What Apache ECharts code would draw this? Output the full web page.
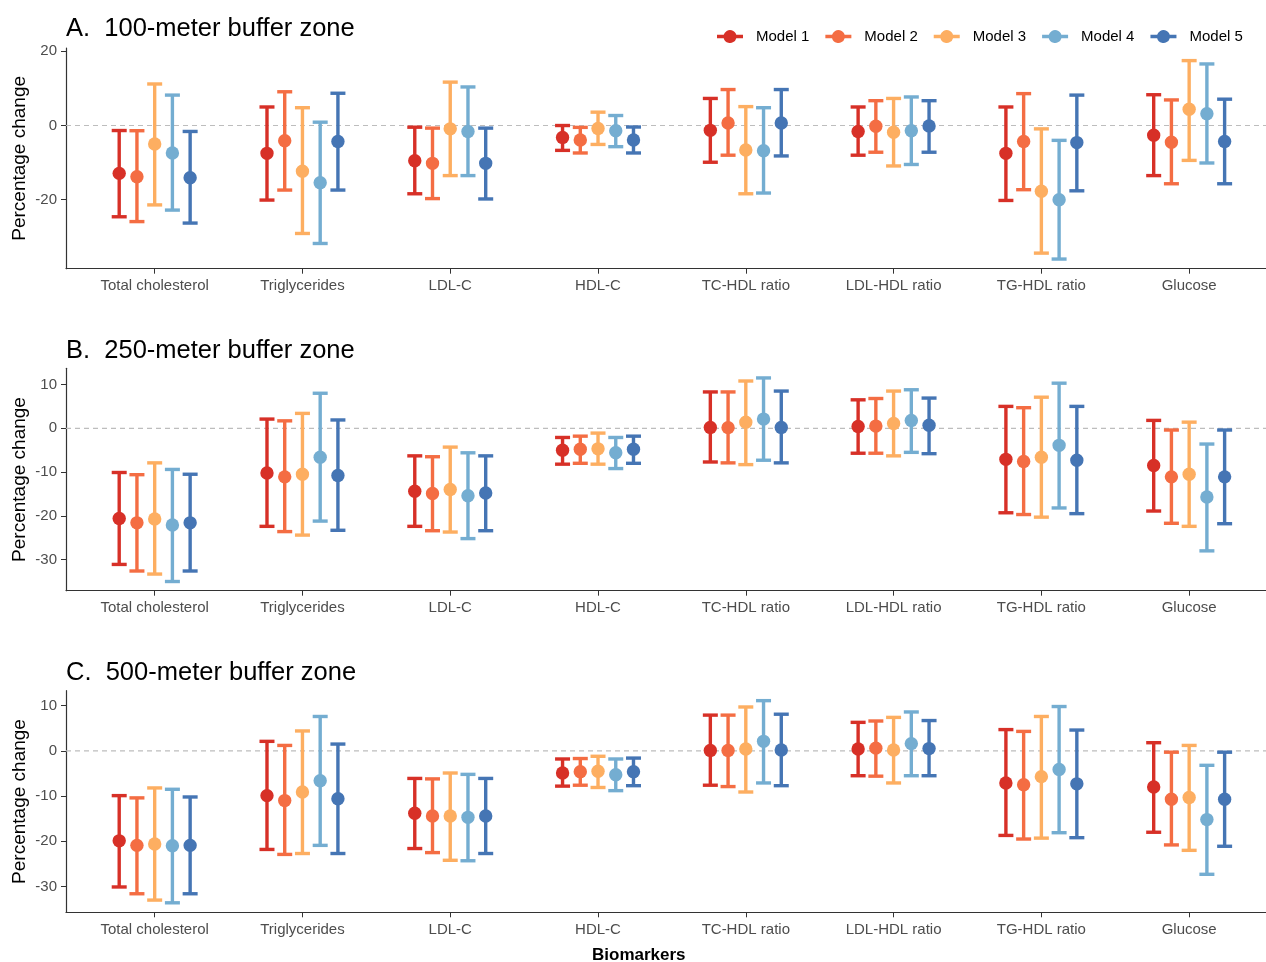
<!DOCTYPE html>
<html><head><meta charset="utf-8">
<script src="https://cdn.jsdelivr.net/npm/echarts@6/dist/echarts.min.js"></script>
<style>html,body{margin:0;padding:0;background:#fff}#c{width:1266px;height:962px}</style>
</head><body><div id="c"></div>
<script>
const categories = ['Total cholesterol','Triglycerides','LDL-C','HDL-C','TC-HDL ratio','LDL-HDL ratio','TG-HDL ratio','Glucose'];
const models = ['Model 1','Model 2','Model 3','Model 4','Model 5'];
const modelColors = ['#d73027','#f46d43','#fdae61','#74add1','#4575b4'];
const panelTitles = ['A.  100-meter buffer zone','B.  250-meter buffer zone','C.  500-meter buffer zone'];
const yTicksA = [-20, 0, 20];
const yTicksB = [-30, -20, -10, 0, 10];
const yTicksC = [-30, -20, -10, 0, 10];

// rows = models, columns = categories
const aEst = [
  [-12.9, -7.5, -9.5, -3.2, -1.3, -1.6, -7.5, -2.6],
  [-13.8, -4.1, -10.2, -3.9, 0.7, -0.2, -4.3, -4.5],
  [-5.0, -12.3, -0.9, -0.8, -6.6, -1.8, -17.7, 4.4],
  [-7.4, -15.4, -1.6, -1.4, -6.8, -1.4, -20.0, 3.2],
  [-14.1, -4.3, -10.2, -3.9, 0.7, -0.1, -4.6, -4.3]
];
const aLow = [
  [-24.6, -20.1, -18.4, -6.7, -9.9, -8.0, -20.2, -13.5],
  [-25.9, -17.4, -19.7, -7.4, -8.0, -7.2, -17.3, -15.7],
  [-21.4, -29.1, -13.5, -5.1, -18.4, -10.9, -34.4, -9.4],
  [-22.8, -31.8, -13.5, -5.7, -18.2, -10.5, -36.0, -10.1],
  [-26.3, -17.4, -19.8, -7.4, -8.2, -7.2, -17.6, -15.7]
];
const aHigh = [
  [-1.35, 5.0, -0.45, 0.0, 7.3, 5.0, 5.0, 8.3],
  [-1.4, 9.1, -0.7, -0.5, 9.7, 6.7, 8.6, 6.9],
  [11.2, 4.8, 11.7, 3.6, 5.1, 7.3, -0.9, 17.5],
  [8.2, 0.9, 10.4, 2.7, 4.8, 7.7, -4.0, 16.6],
  [-1.6, 8.7, -0.7, -0.4, 9.7, 6.7, 8.2, 7.1]
];
const bEst = [
  [-20.6, -10.2, -14.4, -5.0, 0.2, 0.4, -7.1, -8.5],
  [-21.6, -11.1, -14.9, -4.8, 0.15, 0.5, -7.6, -11.1],
  [-20.7, -10.5, -14.0, -4.7, 1.4, 1.1, -6.6, -10.5],
  [-22.1, -6.6, -15.4, -5.6, 2.1, 1.8, -3.9, -15.7],
  [-21.6, -10.8, -14.8, -4.8, 0.2, 0.7, -7.3, -11.1]
];
const bLow = [
  [-31.1, -22.4, -22.4, -8.2, -7.7, -5.7, -19.3, -18.9],
  [-32.6, -23.6, -23.4, -8.0, -7.9, -5.7, -19.7, -21.7],
  [-33.3, -24.4, -23.7, -8.2, -8.3, -6.3, -20.3, -22.4],
  [-35.0, -21.2, -25.2, -9.2, -7.3, -5.5, -18.2, -28.0],
  [-32.6, -23.3, -23.4, -8.0, -7.9, -5.8, -19.5, -21.8]
];
const bHigh = [
  [-10.1, 2.1, -6.3, -2.1, 8.3, 6.5, 5.0, 1.8],
  [-10.6, 1.7, -6.5, -1.8, 8.3, 6.8, 4.7, -0.4],
  [-7.9, 3.4, -4.3, -1.1, 10.8, 8.5, 7.1, 1.4],
  [-9.4, 8.0, -5.6, -2.1, 11.5, 8.8, 10.3, -3.6],
  [-10.5, 1.9, -6.3, -1.8, 8.5, 6.9, 5.0, -0.4]
];
const cEst = [
  [-19.9, -9.9, -13.8, -4.9, 0.1, 0.4, -7.1, -8.0],
  [-20.9, -11.0, -14.4, -4.6, 0.1, 0.6, -7.5, -10.7],
  [-20.6, -9.1, -14.4, -4.5, 0.4, 0.2, -5.7, -10.3],
  [-21.0, -6.6, -14.7, -5.3, 2.1, 1.6, -4.1, -15.2],
  [-20.9, -10.6, -14.4, -4.6, 0.2, 0.5, -7.3, -10.7]
];
const cLow = [
  [-30.1, -21.8, -21.6, -7.8, -7.6, -5.5, -18.7, -18.0],
  [-31.6, -22.9, -22.5, -7.6, -7.9, -5.6, -19.5, -20.8],
  [-33.0, -22.7, -24.2, -8.1, -9.1, -7.1, -19.3, -22.0],
  [-33.6, -20.9, -24.3, -8.8, -7.1, -5.5, -18.1, -27.3],
  [-31.6, -22.7, -22.7, -7.7, -7.7, -5.5, -19.2, -21.1]
];
const cHigh = [
  [-9.9, 2.1, -6.1, -1.8, 7.9, 6.3, 4.7, 1.8],
  [-10.4, 1.2, -6.2, -1.7, 7.9, 6.6, 4.3, -0.3],
  [-8.2, 4.4, -4.9, -1.2, 9.7, 7.4, 7.6, 1.2],
  [-8.5, 7.6, -5.2, -1.8, 11.1, 8.6, 9.8, -3.2],
  [-10.2, 1.5, -6.1, -1.6, 8.1, 6.7, 4.6, -0.3]
];

const FONT = '"Liberation Sans", Arial, sans-serif';
const panels = [
  {est: aEst, low: aLow, high: aHigh, ticks: yTicksA, min: -38.6, max: 20.9, top: 48, height: 220.7, titleTop: 16},
  {est: bEst, low: bLow, high: bHigh, ticks: yTicksB, min: -37.1, max: 13.7, top: 368.3, height: 222.4, titleTop: 338},
  {est: cEst, low: cLow, high: cHigh, ticks: yTicksC, min: -35.7, max: 13.3, top: 690.7, height: 221.6, titleTop: 660}
];
const dodge = [-0.24, -0.12, 0, 0.12, 0.24];
const catPos = categories.map((c, i) => i + 1);

function errRender(params, api) {
  const x = api.value(0), e = api.value(1), lo = api.value(2), hi = api.value(3);
  const pL = api.coord([x, lo]), pH = api.coord([x, hi]), pE = api.coord([x, e]);
  const color = api.visual('color');
  const st = {stroke: color, lineWidth: 3.4};
  const cw = 7.5;
  return {type: 'group', children: [
    {type: 'line', shape: {x1: pL[0], y1: pL[1], x2: pH[0], y2: pH[1]}, style: st},
    {type: 'line', shape: {x1: pH[0]-cw, y1: pH[1], x2: pH[0]+cw, y2: pH[1]}, style: st},
    {type: 'line', shape: {x1: pL[0]-cw, y1: pL[1], x2: pL[0]+cw, y2: pL[1]}, style: st},
    {type: 'circle', shape: {cx: pE[0], cy: pE[1], r: 6.7}, style: {fill: color}}
  ]};
}
function zeroRender(params, api) {
  const cs = params.coordSys;
  const y = api.coord([1, 0])[1];
  return {type: 'line', shape: {x1: cs.x, y1: y, x2: cs.x + cs.width, y2: y},
    style: {stroke: '#bdbdbd', lineWidth: 1.2, lineDash: [5, 4]}};
}

const grids = [], xAxes = [], yAxes = [], series = [], titles = [];
panels.forEach((p, pi) => {
  grids.push({left: 66, top: p.top, width: 1200, height: p.height, outerBoundsMode: 'none'});
  titles.push({text: panelTitles[pi], left: 66, top: p.titleTop, padding: 0,
    textStyle: {fontFamily: FONT, fontSize: 25.5, fontWeight: 'normal', color: '#000'}});
  xAxes.push({type: 'value', gridIndex: pi, min: 0.4, max: 8.52,
    axisLine: {show: true, onZero: false, lineStyle: {color: '#333', width: 1.2}},
    axisTick: {show: true, length: 5, customValues: catPos, lineStyle: {color: '#333'}},
    axisLabel: {customValues: catPos, margin: 10, fontFamily: FONT, fontSize: 15, color: '#4d4d4d',
      formatter: v => categories[Math.round(v) - 1] || ''},
    splitLine: {show: false}});
  yAxes.push({type: 'value', gridIndex: pi, min: p.min, max: p.max,
    name: 'Percentage change', nameLocation: 'middle', nameGap: 37, nameMoveOverlap: false,
    nameTextStyle: {fontFamily: FONT, fontSize: 19, color: '#000'},
    axisLine: {show: true, onZero: false, lineStyle: {color: '#333', width: 1.2}},
    axisTick: {show: true, length: 5, customValues: p.ticks, lineStyle: {color: '#333'}},
    axisLabel: {customValues: p.ticks, margin: 9, fontFamily: FONT, fontSize: 15, color: '#4d4d4d'},
    splitLine: {show: false}});
  series.push({type: 'custom', xAxisIndex: pi, yAxisIndex: pi, silent: true, z: 1,
    data: [[1, 0]], renderItem: zeroRender});
  models.forEach((m, mi) => {
    series.push({type: 'custom', name: m, xAxisIndex: pi, yAxisIndex: pi, z: 2,
      itemStyle: {color: modelColors[mi]},
      encode: {x: 0, y: [1, 2, 3]},
      data: categories.map((c, ci) => [ci + 1 + dodge[mi], p.est[mi][ci], p.low[mi][ci], p.high[mi][ci]]),
      renderItem: errRender});
  });
});

const legendIcon = 'path://M0,4.85 L6.713,4.85 A6.5,6.5 0 0 1 19.287,4.85 L26,4.85 L26,8.15 L19.287,8.15 A6.5,6.5 0 0 1 6.713,8.15 L0,8.15 Z';
const chart = echarts.init(document.getElementById('c'), null, {renderer: 'canvas'});
chart.setOption({
  backgroundColor: '#fff',
  animation: false,
  title: titles,
  legend: {data: models.map(m => ({name: m, icon: legendIcon})), left: 712, top: 24,
    itemWidth: 26, itemHeight: 13, itemGap: 16,
    textStyle: {fontFamily: FONT, fontSize: 15, color: '#000', padding: [0, 0, 0, 8]}},
  grid: grids, xAxis: xAxes, yAxis: yAxes, series: series,
  graphic: [{type: 'text', left: 592, top: 947,
    style: {text: 'Biomarkers', fontFamily: FONT, fontSize: 17, fontWeight: 'bold', fill: '#000'}}]
});
</script></body></html>
